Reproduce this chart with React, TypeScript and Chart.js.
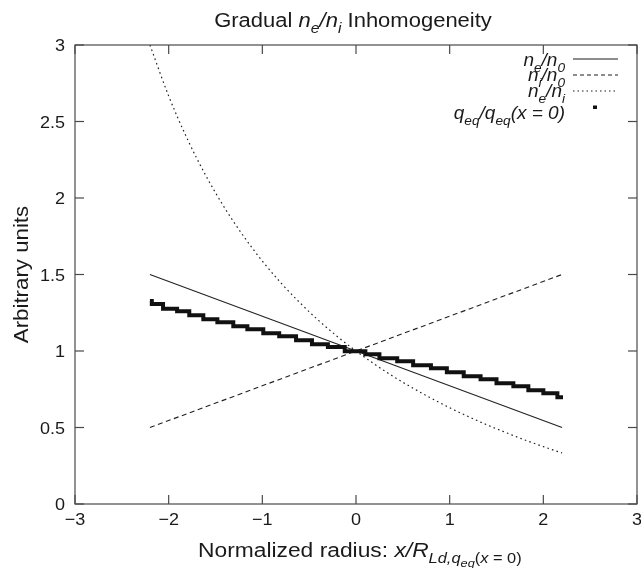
import React, { useEffect, useRef } from 'react';
import { Chart, registerables } from 'chart.js';

Chart.register(...registerables);

// ---- data ----
const xTicks = [-3, -2, -1, 0, 1, 2, 3];
const yTicks = [0, 0.5, 1, 1.5, 2, 2.5, 3];
const xTickLabels = ['\u22123', '\u22122', '\u22121', '0', '1', '2', '3'];
const yTickLabels = ['0', '0.5', '1', '1.5', '2', '2.5', '3'];

const lineX = [-2.2, 2.2];
const neN0 = [1.5, 0.5];
const niN0 = [0.5, 1.5];

const ratioX = [-2.2, -2.0, -1.8, -1.6, -1.4, -1.2, -1.0, -0.8, -0.6, -0.4, -0.2, 0, 0.2, 0.4, 0.6, 0.8, 1.0, 1.2, 1.4, 1.6, 1.8, 2.0, 2.2];
const neNi = [3.0, 2.667, 2.385, 2.143, 1.933, 1.75, 1.588, 1.444, 1.316, 1.2, 1.095, 1.0, 0.913, 0.833, 0.76, 0.692, 0.629, 0.571, 0.517, 0.467, 0.419, 0.375, 0.333];

const qX = [-2.2, -2.18, -2.06, -1.91, -1.78, -1.63, -1.48, -1.31, -1.16, -0.99, -0.82, -0.64, -0.47, -0.3, -0.12, 0.1, 0.25, 0.44, 0.61, 0.8, 0.97, 1.15, 1.33, 1.5, 1.68, 1.84, 2.0, 2.15, 2.21];
const qY = [1.327, 1.307, 1.276, 1.259, 1.233, 1.207, 1.188, 1.161, 1.142, 1.116, 1.096, 1.07, 1.044, 1.026, 0.998, 0.978, 0.952, 0.933, 0.907, 0.887, 0.861, 0.835, 0.815, 0.789, 0.769, 0.743, 0.724, 0.697, 0.697];

const FONT = '"Liberation Sans", Arial, Helvetica, sans-serif';
const TEXT = '#1a1a1a';

type Seg = { t: string; it?: boolean; lv?: number };

const SIZE_F = [1, 0.72, 0.56];
const OFF_F = [0, 0.3, 0.52];

function drawRich(ctx: CanvasRenderingContext2D, segs: Seg[], x: number, y: number, size: number, align: string, sx: number) {
  const font = (s: Seg) => `${s.it ? 'italic ' : ''}${(size * SIZE_F[s.lv || 0]).toFixed(2)}px ${FONT}`;
  let total = 0;
  const ws = segs.map((s) => {
    ctx.font = font(s);
    const w = ctx.measureText(s.t).width * sx;
    total += w;
    return w;
  });
  let cx = align === 'center' ? x - total / 2 : align === 'right' ? x - total : x;
  ctx.textAlign = 'left';
  ctx.textBaseline = 'alphabetic';
  ctx.fillStyle = TEXT;
  segs.forEach((s, i) => {
    ctx.font = font(s);
    ctx.save();
    ctx.translate(cx, y + size * OFF_F[s.lv || 0]);
    ctx.scale(sx, 1);
    ctx.fillText(s.t, 0, 0);
    ctx.restore();
    cx += ws[i];
  });
}

const titleSegs: Seg[] = [
  { t: 'Gradual ' }, { t: 'n', it: true }, { t: 'e', it: true, lv: 1 }, { t: '/', it: true },
  { t: 'n', it: true }, { t: 'i', it: true, lv: 1 }, { t: ' Inhomogeneity' },
];
const xTitleSegs: Seg[] = [
  { t: 'Normalized radius: ' }, { t: 'x', it: true }, { t: '/', it: true }, { t: 'R', it: true },
  { t: 'Ld,', it: true, lv: 1 }, { t: 'q', it: true, lv: 1 }, { t: 'eq', it: true, lv: 2 },
  { t: '(', lv: 1 }, { t: 'x', it: true, lv: 1 }, { t: ' = 0)', lv: 1 },
];
const legendRows: { segs: Seg[]; dash: number[] | null }[] = [
  { segs: [{ t: 'n', it: true }, { t: 'e', it: true, lv: 1 }, { t: '/n', it: true }, { t: '0', it: true, lv: 1 }], dash: [] },
  { segs: [{ t: 'n', it: true }, { t: 'i', it: true, lv: 1 }, { t: '/n', it: true }, { t: '0', it: true, lv: 1 }], dash: [4, 3] },
  { segs: [{ t: 'n', it: true }, { t: 'e', it: true, lv: 1 }, { t: '/n', it: true }, { t: 'i', it: true, lv: 1 }], dash: [1.5, 3] },
  { segs: [{ t: 'q', it: true }, { t: 'eq', it: true, lv: 1 }, { t: '/q', it: true }, { t: 'eq', it: true, lv: 1 }, { t: '(x = 0)', it: true }], dash: null },
];

const decor = {
  id: 'decor',
  afterDraw(chart: any) {
    const { ctx, chartArea: a, scales } = chart;
    const xs = scales.x;
    const ys = scales.y;
    ctx.save();
    ctx.strokeStyle = '#4a4a4a';
    ctx.lineWidth = 1.2;
    ctx.setLineDash([]);
    ctx.strokeRect(a.left, a.top, a.right - a.left, a.bottom - a.top);
    const seg = (x1: number, y1: number, x2: number, y2: number) => {
      ctx.beginPath();
      ctx.moveTo(x1, y1);
      ctx.lineTo(x2, y2);
      ctx.stroke();
    };
    const TL = 9;
    xTicks.forEach((v) => {
      const px = xs.getPixelForValue(v);
      seg(px, a.bottom, px, a.bottom - TL);
      seg(px, a.top, px, a.top + TL);
    });
    yTicks.forEach((v) => {
      const py = ys.getPixelForValue(v);
      seg(a.left, py, a.left + TL, py);
      seg(a.right, py, a.right - TL, py);
    });
    // tick labels
    xTicks.forEach((v, i) => {
      drawRich(ctx, [{ t: xTickLabels[i] }], xs.getPixelForValue(v), a.bottom + 21, 17, 'center', 1.06);
    });
    yTicks.forEach((v, i) => {
      drawRich(ctx, [{ t: yTickLabels[i] }], a.left - 10, ys.getPixelForValue(v) + 6, 17, 'right', 1.06);
    });
    // title
    drawRich(ctx, titleSegs, (a.left + a.right) / 2 - 3, 27, 20, 'center', 1.1);
    // x title
    drawRich(ctx, xTitleSegs, 198, 557, 20, 'left', 1.14);
    // y title
    ctx.save();
    ctx.translate(28, (a.top + a.bottom) / 2);
    ctx.rotate(-Math.PI / 2);
    ctx.font = `21px ${FONT}`;
    ctx.fillStyle = TEXT;
    ctx.textAlign = 'center';
    ctx.textBaseline = 'alphabetic';
    ctx.scale(1.06, 1);
    ctx.fillText('Arbitrary units', 0, 0);
    ctx.restore();
    // legend
    const rowY = [59, 75, 91, 107];
    const baseY = [66, 81, 97, 119];
    legendRows.forEach((r, i) => {
      drawRich(ctx, r.segs, 565, baseY[i], 19, 'right', 1.0);
      ctx.strokeStyle = '#1a1a1a';
      ctx.lineWidth = 1;
      if (r.dash) {
        ctx.setLineDash(r.dash);
        seg(573, rowY[i], 618, rowY[i]);
        ctx.setLineDash([]);
      } else {
        ctx.fillStyle = '#111';
        ctx.fillRect(593, rowY[i] - 1.5, 4, 3.5);
      }
    });
    ctx.restore();
  },
};

export default function App() {
  const ref = useRef<HTMLCanvasElement>(null);
  useEffect(() => {
    if (!ref.current) return;
    const chart = new Chart(ref.current, {
      type: 'scatter',
      data: {
        datasets: [
          {
            label: 'q_eq/q_eq(x=0)',
            data: qX.map((x, i) => ({ x, y: qY[i] })),
            showLine: true,
            stepped: 'before',
            borderColor: '#111',
            borderWidth: 4,
            pointRadius: 0,
            borderCapStyle: 'butt',
          },
          {
            label: 'n_e/n_0',
            data: lineX.map((x, i) => ({ x, y: neN0[i] })),
            showLine: true,
            borderColor: '#222',
            borderWidth: 1.1,
            pointRadius: 0,
          },
          {
            label: 'n_i/n_0',
            data: lineX.map((x, i) => ({ x, y: niN0[i] })),
            showLine: true,
            borderColor: '#222',
            borderWidth: 1.1,
            borderDash: [5, 3.5],
            pointRadius: 0,
          },
          {
            label: 'n_e/n_i',
            data: ratioX.map((x, i) => ({ x, y: neNi[i] })),
            showLine: true,
            borderColor: '#222',
            borderWidth: 1.2,
            borderDash: [1.6, 3.2],
            pointRadius: 0,
            cubicInterpolationMode: 'monotone',
          },
        ],
      } as any,
      options: {
        animation: false,
        responsive: false,
        layout: { padding: { top: 45, right: 4, left: 0, bottom: 0 } },
        plugins: { legend: { display: false }, tooltip: { enabled: false }, title: { display: false } },
        scales: {
          x: {
            type: 'linear',
            min: -3,
            max: 3,
            grid: { display: false },
            border: { display: false },
            ticks: { display: false },
            afterFit: (s: any) => { s.height = 64; },
          },
          y: {
            type: 'linear',
            min: 0,
            max: 3,
            grid: { display: false },
            border: { display: false },
            ticks: { display: false },
            afterFit: (s: any) => { s.width = 75; },
          },
        },
      } as any,
      plugins: [decor],
    });
    return () => chart.destroy();
  }, []);
  return (
    <div style={{ position: 'absolute', left: 0, top: 0, width: 641, height: 568, background: '#fff' }}>
      <canvas ref={ref} width={641} height={568} style={{ display: 'block' }} />
    </div>
  );
}
